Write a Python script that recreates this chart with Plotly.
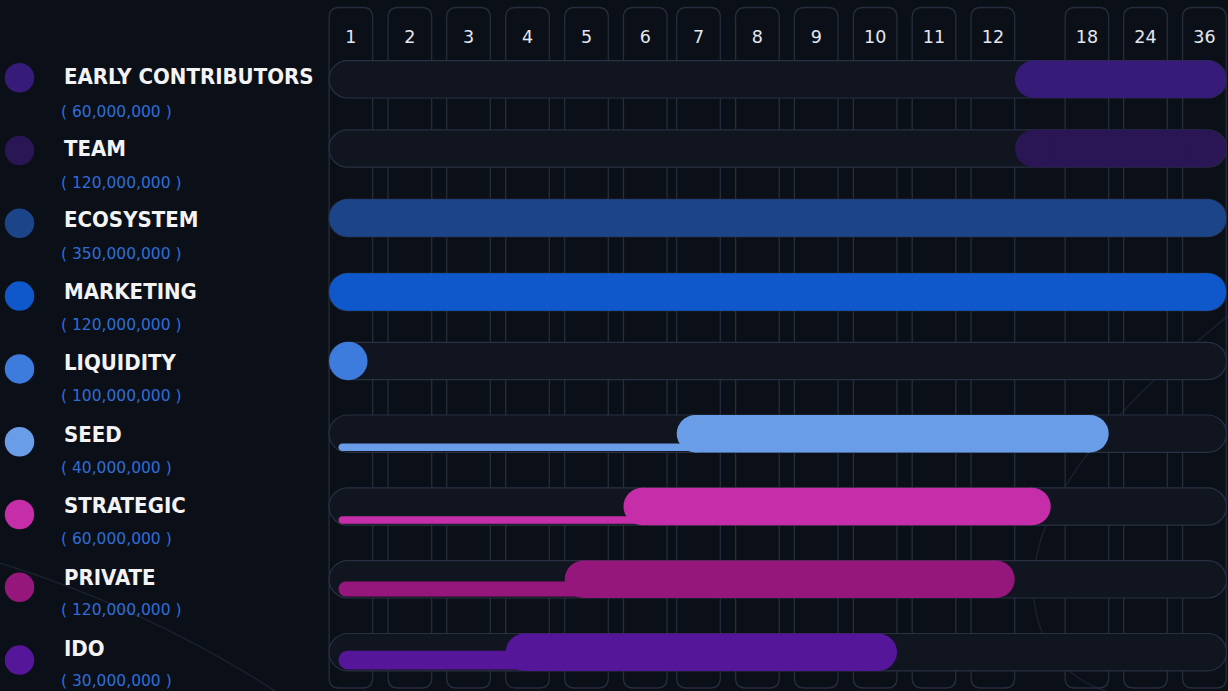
import numpy as np
import plotly.graph_objects as go

# ---------------- data ----------------
categories = ["EARLY CONTRIBUTORS", "TEAM", "ECOSYSTEM", "MARKETING", "LIQUIDITY",
              "SEED", "STRATEGIC", "PRIVATE", "IDO"]
amounts = [60_000_000, 120_000_000, 350_000_000, 120_000_000, 100_000_000,
           40_000_000, 60_000_000, 120_000_000, 30_000_000]
month_labels = ["1", "2", "3", "4", "5", "6", "7", "8", "9", "10", "11", "12", "18", "24", "36"]
vest_start = [14.8, 14.8, 1, 1, 1, 7, 6, 5, 4]      # month where vesting bar starts
vest_end = [36, 36, 36, 36, 1, 18, 14.3, 12, 10]    # month where vesting bar ends
tge_unlock = [0, 0, 0, 0, 100, 10, 10, 20, 25]       # % unlocked at TGE (thin line)
colors = ["#361B79", "#2A1654", "#1C4489", "#0F58CC", "#3D7BDD",
          "#6A9DE8", "#C62EA9", "#96177C", "#55169A"]

# ---------------- layout constants ----------------
W, H = 1228, 691
BG = "#0B0F18"
GRID = "#262D3C"
TRACK_FILL = "#11151F"
TRACK_LINE = "#283042"
COL_CENTER = [350.9, 409.9, 468.5, 527.5, 586.5, 645.3, 698.5, 757.4, 816.2,
              875.2, 934.0, 992.9, 1086.9, 1145.5, 1204.4]
COL_W = 43.6
COL_TOP, COL_BOT = 7.5, 688.0
TRACK_Y = [79.3, 148.5, 218.0, 292.0, 361.0, 433.7, 506.5, 579.3, 652.2]
TRACK_H = 37.4
TRACK_X0, TRACK_X1 = 329.0, 1226.5
DOT_Y = [77.7 + 72.8 * i for i in range(len(categories))]
LABEL_Y = [76.5 + 71.5 * i for i in range(len(categories))]
AMT_Y = [111.5 + 71.2 * i for i in range(len(categories))]
PX_PER_PCT = 0.75

month_vals = [float(m) for m in month_labels]


def mx(m):
    return float(np.interp(m, month_vals, COL_CENTER))


def rrect(x0, y0, x1, y1, r):
    return (f"M {x0},{y0+r} Q {x0},{y0} {x0+r},{y0} L {x1-r},{y0} Q {x1},{y0} {x1},{y0+r} "
            f"L {x1},{y1-r} Q {x1},{y1} {x1-r},{y1} L {x0+r},{y1} Q {x0},{y1} {x0},{y1-r} Z")


def pill(x0, x1, yc, h):
    r = h / 2
    k = 0.5523 * r
    return (f"M {x0+r},{yc-r} L {x1-r},{yc-r} "
            f"C {x1-r+k},{yc-r} {x1},{yc-k} {x1},{yc} "
            f"C {x1},{yc+k} {x1-r+k},{yc+r} {x1-r},{yc+r} "
            f"L {x0+r},{yc+r} "
            f"C {x0+r-k},{yc+r} {x0},{yc+k} {x0},{yc} "
            f"C {x0},{yc-k} {x0+r-k},{yc-r} {x0+r},{yc-r} Z")


shapes = []
# faint decorative arcs in the background
shapes.append(dict(type="path", xref="x", yref="y", layer="below",
                   path="M 0,563 Q 150,610 275,691",
                   line=dict(color="#1A2030", width=1.5)))
shapes.append(dict(type="path", xref="x", yref="y", layer="below",
                   path="M 1228,316 C 1110,410 1025,510 1034,600 C 1040,650 1070,680 1106,691",
                   line=dict(color="#1A2030", width=1.5)))
# column boxes
for c in COL_CENTER:
    shapes.append(dict(type="path", xref="x", yref="y", layer="below",
                       path=rrect(c - COL_W / 2, COL_TOP, c + COL_W / 2, COL_BOT, 10),
                       line=dict(color=GRID, width=1.3), fillcolor="rgba(0,0,0,0)"))
# tracks
for y in TRACK_Y:
    shapes.append(dict(type="path", xref="x", yref="y", layer="below",
                       path=pill(TRACK_X0, TRACK_X1, y, TRACK_H),
                       line=dict(color=TRACK_LINE, width=1.2), fillcolor=TRACK_FILL))

fig = go.Figure()

r = TRACK_H / 2
for i, cat in enumerate(categories):
    yc = TRACK_Y[i]
    xl = mx(vest_start[i]) - COL_W / 2
    xr = mx(vest_end[i]) + COL_W / 2
    # TGE thin line (under the vesting bar)
    if 0 < tge_unlock[i] < 100:
        w = tge_unlock[i] * PX_PER_PCT
        ly = yc + r - 1.5 - w / 2
        shapes.append(dict(type="path", xref="x", yref="y", layer="below",
                           path=pill(TRACK_X0 + 9.5, xl + 2 * r, ly, w),
                           line=dict(width=0), fillcolor=colors[i]))
    if vest_start[i] == vest_end[i]:
        # full unlock at TGE: a single dot
        fig.add_trace(go.Scatter(
            x=[TRACK_X0 + 19.3], y=[yc], mode="markers",
            marker=dict(color=colors[i], size=38.5, line=dict(width=0)),
            name=cat, hoverinfo="name", showlegend=False))
    else:
        fig.add_trace(go.Scatter(
            x=[xl + r, xr - r], y=[yc, yc], mode="lines+markers",
            line=dict(color=colors[i], width=TRACK_H),
            marker=dict(color=colors[i], size=TRACK_H, line=dict(width=0)),
            name=cat, hoverinfo="name", showlegend=False))

# column (month) labels
fig.add_trace(go.Scatter(
    x=COL_CENTER, y=[39.0] * len(COL_CENTER), mode="text", text=month_labels,
    textposition="middle center",
    textfont=dict(family="DejaVu Sans", size=17.5, color="#E4E7EE"),
    hoverinfo="skip", showlegend=False))

# left legend dots
fig.add_trace(go.Scatter(
    x=[19.5] * len(categories), y=DOT_Y, mode="markers",
    marker=dict(color=colors, size=29.5, line=dict(width=0)),
    hoverinfo="skip", showlegend=False))

annotations = []
for i, cat in enumerate(categories):
    annotations.append(dict(
        x=62, y=LABEL_Y[i], xref="x", yref="y", xanchor="left", yanchor="middle",
        text=cat, showarrow=False,
        font=dict(family="DejaVu Sans Condensed", size=22, color="#F3F3F3", weight="bold")))
    annotations.append(dict(
        x=59, y=AMT_Y[i], xref="x", yref="y", xanchor="left", yanchor="middle",
        text=f"( {amounts[i]:,} )", showarrow=False,
        font=dict(family="DejaVu Sans", size=15.5, color="#2F6DD6")))

fig.update_layout(
    width=W, height=H,
    margin=dict(l=0, r=0, t=0, b=0),
    paper_bgcolor=BG, plot_bgcolor=BG,
    xaxis=dict(range=[0, W], visible=False, fixedrange=True),
    yaxis=dict(range=[H, 0], visible=False, fixedrange=True),
    shapes=shapes, annotations=annotations,
    showlegend=False,
)

fig.write_html("out.html", config={"displayModeBar": False},
               post_script="document.body.style.margin='0';document.body.style.background='#0B0F18';")
